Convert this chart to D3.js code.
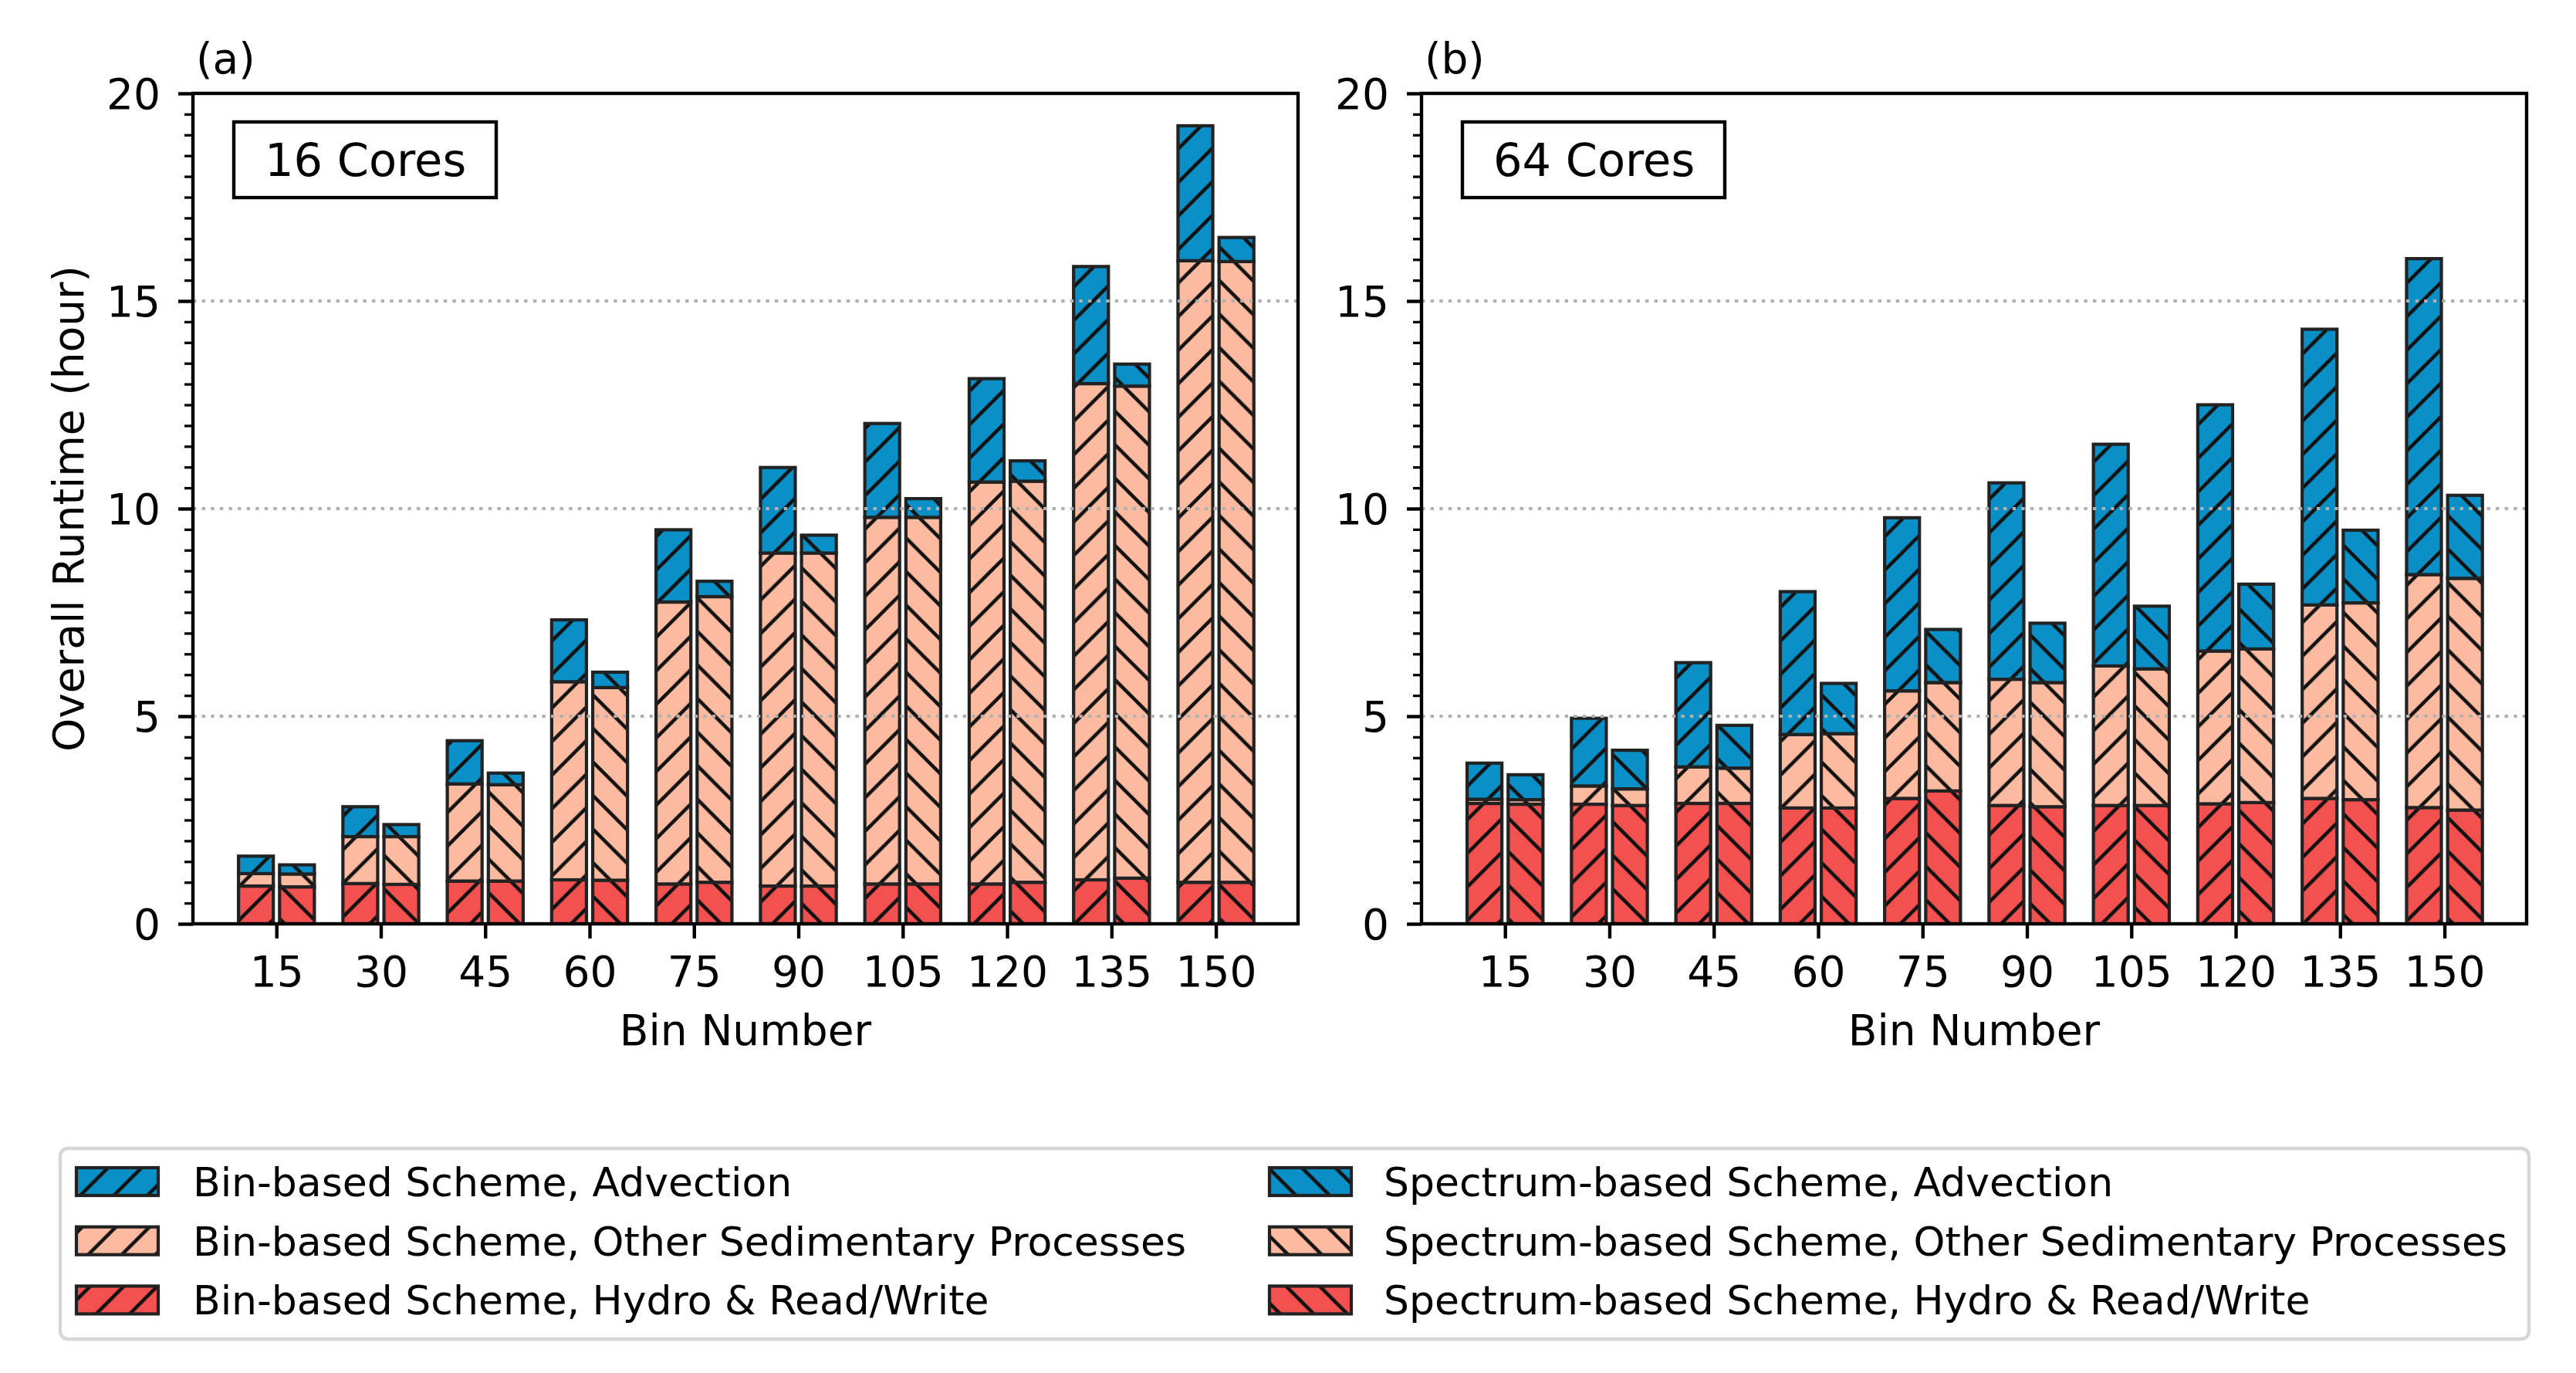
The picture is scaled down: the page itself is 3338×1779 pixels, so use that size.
<!DOCTYPE html>
<html>
<head>
<meta charset="utf-8">
<script src="https://cdn.jsdelivr.net/npm/d3@7"></script>
<style>
  body { margin: 0; background: #fff; }
  text { font-family: "DejaVu Sans", sans-serif; fill: #000; }
</style>
</head>
<body>
<svg id="chart" width="3338" height="1779"></svg>
<script>
// bin numbers on the x axis
const bins = [15, 30, 45, 60, 75, 90, 105, 120, 135, 150];
const yTicks = [0, 5, 10, 15, 20];

// (a) 16 cores, hours per component
const a_bin_hydro  = [0.91, 0.97, 1.03, 1.06, 0.96, 0.91, 0.96, 0.96, 1.06, 1.00];
const a_bin_other  = [0.30, 1.13, 2.34, 4.77, 6.79, 8.02, 8.83, 9.68, 11.95, 14.97];
const a_bin_adv    = [0.42, 0.72, 1.04, 1.49, 1.74, 2.06, 2.26, 2.49, 2.82, 3.25];
const a_spec_hydro = [0.89, 0.95, 1.03, 1.05, 1.00, 0.91, 0.96, 1.00, 1.10, 1.00];
const a_spec_other = [0.31, 1.15, 2.32, 4.64, 6.88, 8.02, 8.83, 9.66, 11.85, 14.95];
const a_spec_adv   = [0.22, 0.29, 0.28, 0.37, 0.37, 0.43, 0.45, 0.49, 0.53, 0.58];

// (b) 64 cores
const b_bin_hydro  = [2.90, 2.88, 2.90, 2.79, 3.02, 2.85, 2.85, 2.89, 3.02, 2.80];
const b_bin_other  = [0.10, 0.44, 0.88, 1.77, 2.59, 3.04, 3.36, 3.68, 4.66, 5.61];
const b_bin_adv    = [0.87, 1.63, 2.51, 3.44, 4.17, 4.73, 5.34, 5.93, 6.64, 7.61];
const b_spec_hydro = [2.88, 2.85, 2.90, 2.79, 3.20, 2.82, 2.85, 2.92, 2.99, 2.74];
const b_spec_other = [0.11, 0.40, 0.85, 1.79, 2.61, 2.99, 3.29, 3.70, 4.74, 5.58];
const b_spec_adv   = [0.60, 0.93, 1.03, 1.21, 1.28, 1.43, 1.51, 1.56, 1.75, 2.00];

const keys = ["hydro", "other", "adv"];
const colors = { adv: "#0a8fc6", other: "#fcbba1", hydro: "#f2514f" };
const legendNames = {
  adv: "Advection",
  other: "Other Sedimentary Processes",
  hydro: "Hydro & Read/Write"
};

const W = 1432, H = 1076;
const S = 43.5; // hatch spacing

const svg = d3.select("#chart");
const defs = svg.append("defs");

function hatch(id, d) {
  defs.append("pattern")
    .attr("id", id)
    .attr("patternUnits", "userSpaceOnUse")
    .attr("width", S).attr("height", S)
    .append("path")
    .attr("d", d)
    .attr("fill", "none")
    .attr("stroke", "#111")
    .attr("stroke-width", 4.6);
}
hatch("fwd", `M${-S/2},${S/2}L${S/2},${-S/2}M0,${S}L${S},0M${S/2},${1.5*S}L${1.5*S},${S/2}`);
hatch("back", `M${-S/2},${S/2}L${S/2},${1.5*S}M0,0L${S},${S}M${S/2},${-S/2}L${1.5*S},${S/2}`);

function rows(h, o, a) {
  return bins.map((b, i) => ({ bin: b, hydro: h[i], other: o[i], adv: a[i] }));
}

const stack = d3.stack().keys(keys);

function drawPanel(left, label, cores, binRows, specRows, withYLabel) {
  const g = svg.append("g").attr("transform", `translate(${left},121)`);
  const x = d3.scaleLinear().domain([3, 161.8]).range([0, W]);
  const y = d3.scaleLinear().domain([0, 20]).range([H, 0]);
  const bw = x(5) - x(0);

  const schemes = [
    { data: binRows, off: -2.95, pat: "fwd" },
    { data: specRows, off: 2.95, pat: "back" }
  ];

  schemes.forEach(sc => {
    const series = stack(sc.data);
    series.forEach(s => {
      const seg = g.append("g").selectAll("g").data(s).join("g");
      seg.append("rect")
        .attr("x", d => x(d.data.bin + sc.off) - bw / 2)
        .attr("y", d => y(d[1]))
        .attr("width", bw)
        .attr("height", d => y(d[0]) - y(d[1]))
        .attr("fill", colors[s.key]);
      seg.append("rect")
        .attr("x", d => x(d.data.bin + sc.off) - bw / 2)
        .attr("y", d => y(d[1]))
        .attr("width", bw)
        .attr("height", d => y(d[0]) - y(d[1]))
        .attr("fill", `url(#${sc.pat})`)
        .attr("stroke", "#222")
        .attr("stroke-width", 4.2);
    });
  });

  // dotted grid on top of bars
  g.append("g").selectAll("line")
    .data(yTicks.filter(v => v > 0 && v < 20))
    .join("line")
    .attr("x1", 0).attr("x2", W)
    .attr("y1", d => y(d)).attr("y2", d => y(d))
    .attr("stroke", "#b0b0b0")
    .attr("stroke-width", 3.8)
    .attr("stroke-dasharray", "4.4 7.2");

  // axes
  const xg = g.append("g").attr("transform", `translate(0,${H})`)
    .call(d3.axisBottom(x).tickValues(bins).tickSize(19).tickSizeOuter(0));
  xg.select(".domain").remove();
  xg.selectAll("line").attr("stroke", "#000").attr("stroke-width", 4.4);
  xg.selectAll("text").attr("y", 81).attr("dy", null)
    .style("font-size", "55px").style("font-family", "DejaVu Sans");

  const minor = d3.range(0, 20.001, 0.5).filter(v => v % 5 !== 0);
  const mg = g.append("g")
    .call(d3.axisLeft(y).tickValues(minor).tickSize(11).tickFormat(""));
  mg.select(".domain").remove();
  mg.selectAll("line").attr("stroke", "#000").attr("stroke-width", 3.3);

  const yg = g.append("g")
    .call(d3.axisLeft(y).tickValues(yTicks).tickSize(19).tickPadding(23));
  yg.select(".domain").remove();
  yg.selectAll("line").attr("stroke", "#000").attr("stroke-width", 4.4);
  yg.selectAll("text").attr("dy", "0.36em")
    .style("font-size", "55px").style("font-family", "DejaVu Sans");

  // frame
  g.append("rect")
    .attr("width", W).attr("height", H)
    .attr("fill", "none").attr("stroke", "#000").attr("stroke-width", 4.4);

  g.append("text").attr("x", 4).attr("y", -26)
    .style("font-size", "55px").text(label);

  g.append("rect").attr("x", 53).attr("y", 37).attr("width", 340).attr("height", 98)
    .attr("fill", "#fff").attr("stroke", "#000").attr("stroke-width", 4.4);
  g.append("text").attr("x", 93).attr("y", 107)
    .style("font-size", "59px").text(cores);

  g.append("text").attr("x", W / 2).attr("y", 1233)
    .attr("text-anchor", "middle").style("font-size", "55px").text("Bin Number");

  if (withYLabel) {
    svg.append("text")
      .attr("transform", `translate(108,${121 + H / 2}) rotate(-90)`)
      .attr("text-anchor", "middle").style("font-size", "55px")
      .text("Overall Runtime (hour)");
  }
}

drawPanel(250, "(a)", "16 Cores",
  rows(a_bin_hydro, a_bin_other, a_bin_adv),
  rows(a_spec_hydro, a_spec_other, a_spec_adv), true);
drawPanel(1842, "(b)", "64 Cores",
  rows(b_bin_hydro, b_bin_other, b_bin_adv),
  rows(b_spec_hydro, b_spec_other, b_spec_adv), false);

// legend
const lg = svg.append("g");
lg.append("rect").attr("x", 78).attr("y", 1488).attr("width", 3199).attr("height", 247)
  .attr("rx", 10).attr("fill", "#fff").attr("stroke", "#d6d6d6").attr("stroke-width", 4.5);

const legendCols = [
  { scheme: "Bin-based Scheme", pat: "fwd", hx: 99, tx: 250 },
  { scheme: "Spectrum-based Scheme", pat: "back", hx: 1645, tx: 1793 }
];
const legendOrder = ["adv", "other", "hydro"];
legendCols.forEach(col => {
  legendOrder.forEach((k, i) => {
    const yy = 1513 + i * 76.7;
    lg.append("rect").attr("x", col.hx).attr("y", yy).attr("width", 106).attr("height", 36)
      .attr("fill", colors[k]);
    lg.append("rect").attr("x", col.hx).attr("y", yy).attr("width", 106).attr("height", 36)
      .attr("fill", `url(#${col.pat})`).attr("stroke", "#222").attr("stroke-width", 4.2);
    lg.append("text").attr("x", col.tx).attr("y", 1550 + i * 76.7)
      .style("font-size", "52px").text(`${col.scheme}, ${legendNames[k]}`);
  });
});
</script>
</body>
</html>
